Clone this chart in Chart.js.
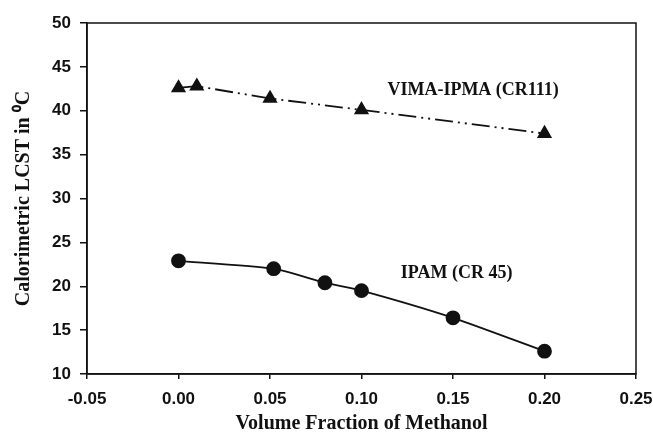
<!DOCTYPE html>
<html><head><meta charset="utf-8">
<script src="https://cdn.jsdelivr.net/npm/chart.js@4/dist/chart.umd.min.js"></script>
<style>html,body{margin:0;padding:0;background:#fff}#c{display:block}</style>
</head><body>
<canvas id="c" width="653" height="433"></canvas>
<script>
const vimaX = [0.00, 0.01, 0.05, 0.10, 0.20];
const vimaY = [42.6, 42.8, 41.4, 40.1, 37.4];
const ipamX = [0.00, 0.052, 0.08, 0.10, 0.15, 0.20];
const ipamY = [22.9, 22.0, 20.4, 19.5, 16.4, 12.6];
const xTicks = [-0.05, 0.00, 0.05, 0.10, 0.15, 0.20, 0.25];
const yTicks = [10, 15, 20, 25, 30, 35, 40, 45, 50];
const labels = [
  {text: 'VIMA-IPMA (CR111)', x: 0.161, y: 42.3},
  {text: 'IPAM (CR 45)', x: 0.152, y: 21.5}
];

const frame = {
  id: 'frame',
  afterDraw(chart) {
    const {ctx, chartArea: a, scales} = chart;
    ctx.save();
    ctx.strokeStyle = '#111';
    ctx.lineWidth = 1.5;
    ctx.strokeRect(a.left, a.top, a.right - a.left, a.bottom - a.top);
    ctx.fillStyle = '#111';
    ctx.font = 'bold 18px "Liberation Serif"';
    ctx.textAlign = 'center';
    ctx.textBaseline = 'middle';
    labels.forEach(l => ctx.fillText(l.text, scales.x.getPixelForValue(l.x), scales.y.getPixelForValue(l.y)));
    ctx.restore();
  }
};

new Chart(document.getElementById('c'), {
  type: 'scatter',
  data: {
    datasets: [
      {
        data: vimaX.map((x, i) => ({x, y: vimaY[i]})),
        showLine: true,
        borderColor: '#111',
        backgroundColor: '#111',
        borderWidth: 1.8,
        borderDash: [18, 5, 2, 5, 2, 5],
        pointStyle: 'triangle',
        pointRadius: 7,
        pointHoverRadius: 7
      },
      {
        data: ipamX.map((x, i) => ({x, y: ipamY[i]})),
        showLine: true,
        borderColor: '#111',
        backgroundColor: '#111',
        borderWidth: 1.8,
        tension: 0.2,
        pointStyle: 'circle',
        pointRadius: 6.5,
        pointHoverRadius: 6.5
      }
    ]
  },
  options: {
    responsive: false,
    animation: false,
    events: [],
    layout: {padding: {left: 0, top: 23, right: 17, bottom: 0}},
    plugins: {legend: {display: false}, tooltip: {enabled: false}},
    scales: {
      x: {
        type: 'linear', min: -0.05, max: 0.25,
        afterBuildTicks: s => { s.ticks = xTicks.map(v => ({value: v})); },
        afterFit: s => { s.height = 59; s.paddingRight = 0; s.paddingLeft = 0; },
        ticks: {
          color: '#111', padding: 10,
          font: {family: '"Liberation Sans"', weight: 'bold', size: 17},
          callback: v => Number(v).toFixed(2)
        },
        grid: {drawOnChartArea: false, drawTicks: true, tickLength: 5, color: '#111', lineWidth: 1.5},
        border: {display: true, color: '#111', width: 1.5},
        title: {
          display: true, text: 'Volume Fraction of Methanol', color: '#111',
          font: {family: '"Liberation Serif"', weight: 'bold', size: 20}, padding: {top: 0, bottom: -3}
        }
      },
      y: {
        type: 'linear', min: 10, max: 50,
        afterBuildTicks: s => { s.ticks = yTicks.map(v => ({value: v})); },
        afterFit: s => { s.width = 87; s.paddingTop = 0; s.paddingBottom = 0; },
        ticks: {
          color: '#111', padding: 9,
          font: {family: '"Liberation Sans"', weight: 'bold', size: 17}
        },
        grid: {drawOnChartArea: false, drawTicks: true, tickLength: 7, color: '#111', lineWidth: 1.5},
        border: {display: true, color: '#111', width: 1.5},
        title: {
          display: true, text: 'Calorimetric LCST in \u2070C', color: '#111',
          font: {family: '"Liberation Serif"', weight: 'bold', size: 20}, padding: {top: 12, bottom: 4}
        }
      }
    }
  },
  plugins: [frame]
});
</script>
</body></html>
